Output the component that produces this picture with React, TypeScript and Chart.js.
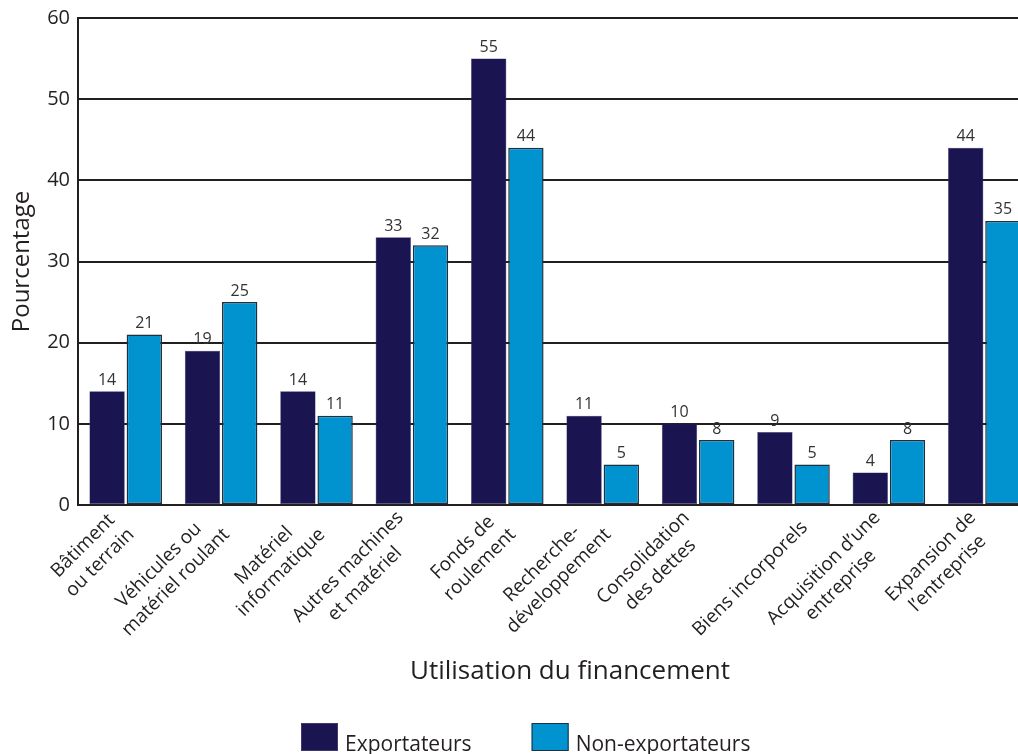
import React, { useEffect, useRef } from "react";
import { Chart, registerables } from "chart.js";

Chart.register(...registerables);

const categories: string[][] = [
  ["Bâtiment", "ou terrain"],
  ["Véhicules ou", "matériel roulant"],
  ["Matériel", "informatique"],
  ["Autres machines", "et matériel"],
  ["Fonds de", "roulement"],
  ["Recherche-", "développement"],
  ["Consolidation", "des dettes"],
  ["Biens incorporels"],
  ["Acquisition d’une", "entreprise"],
  ["Expansion de", "l’entreprise"],
];

const exportateurs = [14, 19, 14, 33, 55, 11, 10, 9, 4, 44];
const nonExportateurs = [21, 25, 11, 32, 44, 5, 8, 5, 8, 35];

const yTicks = [0, 10, 20, 30, 40, 50, 60];

const xTitle = "Utilisation du financement";
const yTitle = "Pourcentage";

const FONT = "'Open Sans', 'Noto Sans', sans-serif";
const TEXT = "#231f20";

const valueLabels = {
  id: "valueLabels",
  afterDatasetsDraw(chart: any) {
    const ctx = chart.ctx;
    ctx.save();
    ctx.font = `16px ${FONT}`;
    ctx.fillStyle = "#333333";
    ctx.textAlign = "center";
    ctx.textBaseline = "bottom";
    chart.data.datasets.forEach((ds: any, i: number) => {
      const meta = chart.getDatasetMeta(i);
      meta.data.forEach((el: any, j: number) => {
        ctx.fillText(String(ds.data[j]), el.x, el.y - 3);
      });
    });
    ctx.restore();
  },
};

// Rotated category labels (lines centred within their block), at the x scale's tick pixels,
// plus the x axis title under them
const categoryLabels = {
  id: "categoryLabels",
  afterDraw(chart: any) {
    const scale = chart.scales.x;
    const ctx = chart.ctx;
    ctx.save();
    ctx.font = `19px ${FONT}`;
    ctx.fillStyle = TEXT;
    ctx.textAlign = "center";
    ctx.textBaseline = "alphabetic";
    const labels = chart.data.labels as string[][];
    labels.forEach((lines, i) => {
      const px = scale.getPixelForTick(i);
      const py = scale.top;
      const maxW = Math.max(...lines.map((l) => ctx.measureText(l).width));
      ctx.save();
      ctx.translate(px, py);
      ctx.rotate(-Math.PI / 4);
      if (lines.length === 1) {
        ctx.fillText(lines[0], -6 - maxW / 2, 27);
      } else {
        const cx = -15 - maxW / 2;
        lines.forEach((line, k) => {
          ctx.fillText(line, cx, 4 + k * 24);
        });
      }
      ctx.restore();
    });
    // x axis title
    ctx.font = `26px ${FONT}`;
    ctx.textAlign = "center";
    ctx.textBaseline = "middle";
    const mid = (chart.chartArea.left + chart.chartArea.right) / 2;
    ctx.fillText(xTitle, mid + 15, 672);
    ctx.restore();
  },
};

// Bottom legend with square swatches
const bottomLegend = {
  id: "bottomLegend",
  afterDraw(chart: any) {
    const ctx = chart.ctx;
    ctx.save();
    ctx.font = `21px ${FONT}`;
    ctx.textAlign = "left";
    ctx.textBaseline = "alphabetic";
    const boxW = 37;
    const boxH = 28;
    const textGap = 7;
    const itemGap = 60;
    const items = chart.data.datasets.map((ds: any) => ({
      label: ds.label,
      fill: ds.backgroundColor,
      stroke: ds.borderColor,
      w: ctx.measureText(ds.label).width,
    }));
    let x = 301;
    const top = 723;
    items.forEach((it: any) => {
      ctx.fillStyle = it.fill;
      ctx.fillRect(x, top, boxW, boxH);
      ctx.strokeStyle = it.stroke;
      ctx.lineWidth = 1;
      ctx.strokeRect(x + 0.5, top + 0.5, boxW - 1, boxH - 1);
      ctx.fillStyle = TEXT;
      ctx.fillText(it.label, x + boxW + textGap, top + boxH);
      x += boxW + textGap + it.w + itemGap;
    });
    ctx.restore();
  },
};

export default function App() {
  const ref = useRef<HTMLCanvasElement | null>(null);

  useEffect(() => {
    if (!ref.current) return;
    const chart = new Chart(ref.current, {
      type: "bar",
      data: {
        labels: categories,
        datasets: [
          {
            label: "Exportateurs",
            data: exportateurs,
            backgroundColor: "#1a1550",
            borderColor: "#3e3a70",
            borderWidth: 0.5,
            borderSkipped: false,
            categoryPercentage: 0.78,
            barPercentage: 0.95,
          },
          {
            label: "Non-exportateurs",
            data: nonExportateurs,
            backgroundColor: "#0093d0",
            borderColor: "#1f2f3f",
            borderWidth: 1.5,
            borderSkipped: false,
            categoryPercentage: 0.78,
            barPercentage: 0.95,
          },
        ],
      },
      options: {
        animation: false,
        responsive: true,
        maintainAspectRatio: false,
        layout: { padding: { top: 17, left: 0, right: 8, bottom: 0 } },
        plugins: {
          legend: { display: false },
          tooltip: { enabled: false },
        },
        scales: {
          x: {
            grid: { display: false, drawTicks: false },
            border: { display: true, color: TEXT, width: 2 },
            ticks: { display: false },
            afterFit(scale: any) {
              scale.height = 249;
            },
          },
          y: {
            min: 0,
            max: 60,
            afterBuildTicks(scale: any) {
              scale.ticks = yTicks.map((v) => ({ value: v }));
            },
            grid: { color: TEXT, lineWidth: 2, drawTicks: false },
            border: { display: true, color: TEXT, width: 2 },
            ticks: {
              padding: 8,
              color: TEXT,
              font: { family: FONT, size: 20, lineHeight: 1 },
            },
            title: {
              display: true,
              text: yTitle,
              color: TEXT,
              font: { family: FONT, size: 24, lineHeight: 1.2 },
              padding: { top: 8, bottom: 0 },
            },
            afterFit(scale: any) {
              scale.width = 78;
            },
          },
        },
      },
      plugins: [valueLabels, categoryLabels, bottomLegend],
    });
    return () => chart.destroy();
  }, []);

  return (
    <div
      style={{
        position: "absolute",
        left: 0,
        top: 0,
        width: 1018,
        height: 754,
        overflow: "hidden",
        background: "#ffffff",
      }}
    >
      <div style={{ position: "relative", width: 1040, height: 754 }}>
        <canvas ref={ref} />
      </div>
    </div>
  );
}
